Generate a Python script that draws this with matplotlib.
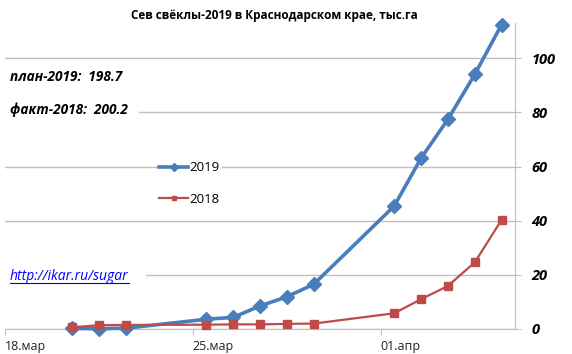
import pandas as pd
import numpy as np
import matplotlib.pyplot as plt
import matplotlib.dates as mdates
import matplotlib.transforms as mtransforms
from matplotlib.patches import Rectangle

plt.rcParams['font.family'] = ['Open Sans', 'DejaVu Sans']

# sowing dates (same for both seasons, shown on a 2019 calendar)
dates = ['2019-03-20', '2019-03-21', '2019-03-22', '2019-03-25', '2019-03-26',
         '2019-03-27', '2019-03-28', '2019-03-29', '2019-04-01', '2019-04-02',
         '2019-04-03', '2019-04-04', '2019-04-05']
sown_2019 = [0.2, 0.1, 0.3, 3.6, 4.3, 8.5, 11.9, 16.5, 45.4, 63.1, 77.4, 94.0, 112.4]
sown_2018 = [0.6, 1.4, 1.5, 1.6, 1.7, 1.7, 1.9, 2.0, 5.8, 11.0, 15.9, 24.6, 40.3]

tick_dates = ['2019-03-18', '2019-03-25', '2019-04-01']
tick_labels = ['18.мар', '25.мар', '01.апр']
y_ticks = [0, 20, 40, 60, 80, 100]

# points sit in the middle of each day (excel date axis style)
x = mdates.date2num(pd.to_datetime(dates)) + 0.5

W, H = 572, 354
fig = plt.figure(figsize=(W/100, H/100), dpi=100)
ax = fig.add_axes([5/W, 25/H, 510/W, 306/H])

grid_col = '#bfbfbf'
ax.plot(x, sown_2019, color='#4a7ebb', lw=2.6, marker='D', ms=7.5,
        label='2019', zorder=3, clip_on=False)
ax.plot(x, sown_2018, color='#be4b48', lw=1.6, marker='s', ms=5.5,
        label='2018', zorder=4, clip_on=False)

ax.set_xlim(mdates.date2num(pd.Timestamp('2019-03-18')),
            mdates.date2num(pd.Timestamp('2019-04-06')))
ax.set_ylim(0, 113)

ax.set_xticks(mdates.date2num(pd.to_datetime(tick_dates)))
ax.set_xticklabels(tick_labels, fontsize=9, color='#222222', ha='left')
shift = mtransforms.ScaledTranslation(-5/100, 0, fig.dpi_scale_trans)
for lab in ax.get_xticklabels():
    lab.set_transform(lab.get_transform() + shift)
ax.tick_params(axis='x', length=4, color=grid_col, pad=4)

ax.yaxis.tick_right()
ax.set_yticks(y_ticks)
ax.set_yticklabels([str(v) for v in y_ticks], fontsize=10.5,
                   fontweight='bold', fontstyle='italic', ha='left')
ax.tick_params(axis='y', length=4, color=grid_col, pad=8)

ax.grid(axis='y', color=grid_col, lw=1)
ax.set_axisbelow(True)
for s in ['top', 'left']:
    ax.spines[s].set_visible(False)
ax.spines['bottom'].set_color(grid_col)
ax.spines['right'].set_color(grid_col)

# white text boxes that hide the gridlines behind the notes
for x0, y0, w, h in [(4, 66, 135, 56), (4, 266, 142, 24)]:
    fig.add_artist(Rectangle((x0/W, 1 - (y0 + h)/H), w/W, h/H,
                             facecolor='white', edgecolor='none',
                             transform=fig.transFigure, zorder=1))

fig.text(0.48, 0.955, 'Сев свёклы-2019 в Краснодарском крае, тыс.га',
         ha='center', va='center', fontsize=8.5, fontweight='bold')

fig.text(10/W, 1 - 77/H, 'план-2019:  198.7', ha='left', va='center',
         fontsize=9.8, fontweight='bold', fontstyle='italic')
fig.text(10/W, 1 - 110/H, 'факт-2018:  200.2', ha='left', va='center',
         fontsize=9.8, fontweight='bold', fontstyle='italic')
url = fig.text(10/W, 1 - 277/H, 'http://ikar.ru/sugar', ha='left', va='center',
               fontsize=10, fontstyle='italic', color='#0000ff')
# underline the link
fig.canvas.draw()
bb = url.get_window_extent().transformed(fig.transFigure.inverted())
fig.add_artist(plt.Line2D([bb.x0, bb.x1], [bb.y0 + 1.5/H, bb.y0 + 1.5/H],
                          color='#0000ff', lw=0.8, transform=fig.transFigure,
                          zorder=4))

leg = ax.legend(loc='upper left', bbox_to_anchor=(145/510, 1 - (152 - 23)/306),
                frameon=True, fontsize=9.5, handlelength=2.2, labelspacing=1.4,
                markerscale=0.6, handletextpad=0.1, borderpad=0.2)
leg.get_frame().set_edgecolor('none')
leg.get_frame().set_alpha(1)
leg.get_frame().set_boxstyle('square', pad=0)

fig.savefig('out.png', dpi=100)
